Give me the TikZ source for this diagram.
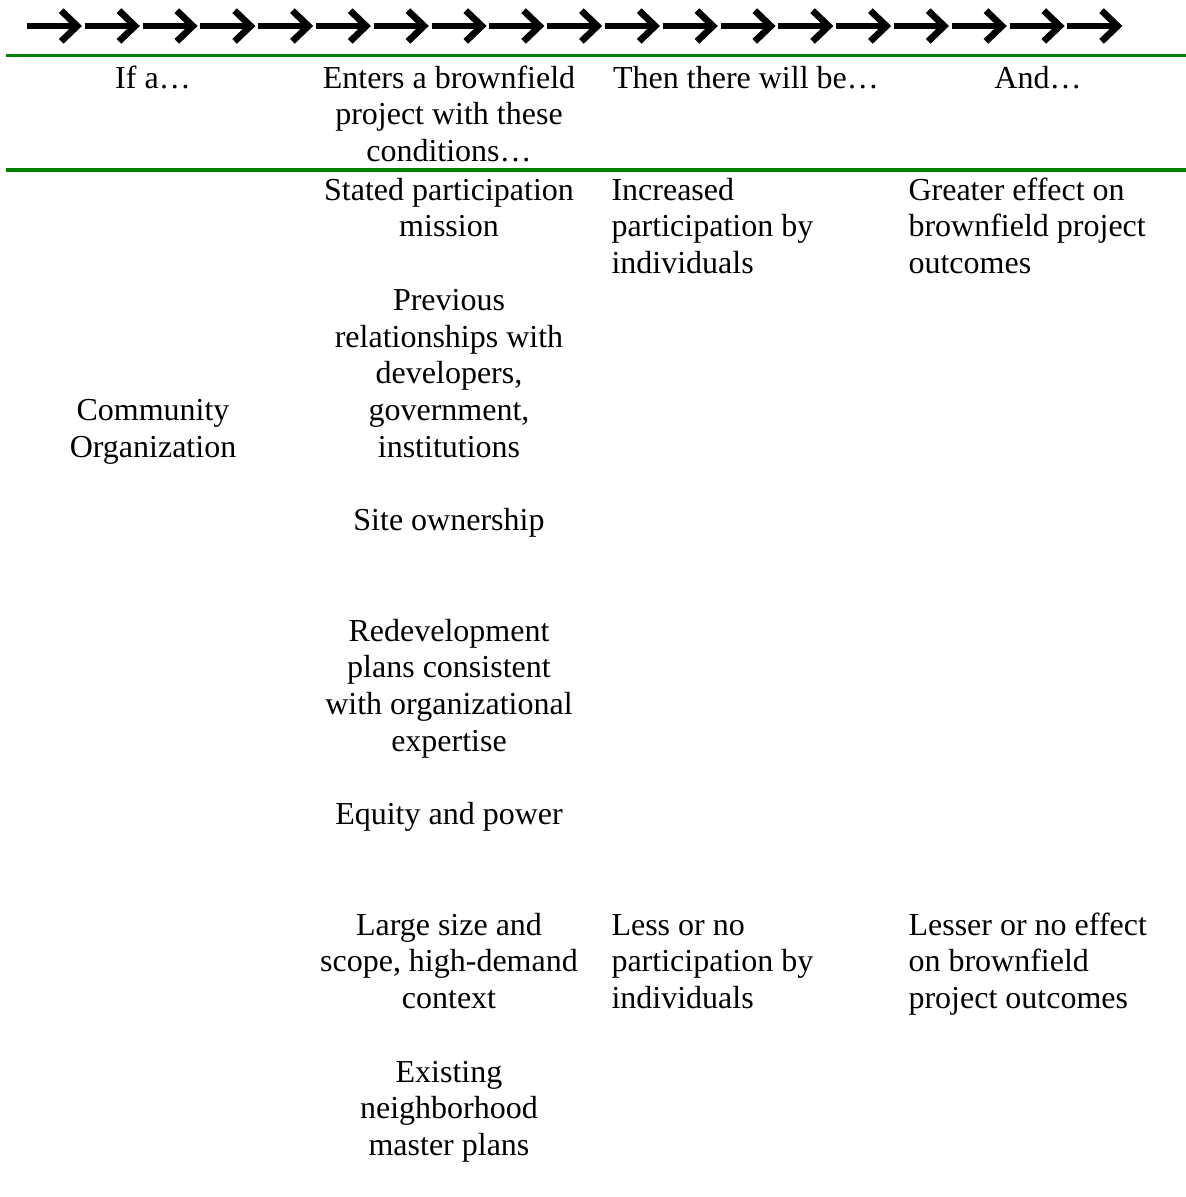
\documentclass[tikz,border=0pt]{standalone}
\usepackage{fontspec}
\setmainfont{Liberation Serif}
\usepackage{xcolor}
\usepackage{tikz}
\usetikzlibrary{arrows.meta, positioning}

\definecolor{rulegreen}{RGB}{0,128,0}

\begin{document}
\begin{tikzpicture}[
  x=0.375pt, y=-0.375pt,
  % Arrow row above the table
  flow_arr/.style={-{Straight Barb[length=6pt, width=11.5pt, line width=2.5pt]}, line width=2pt, draw=black},
  % Green table rules
  grule/.style={draw=rulegreen, line width=1.25pt},
  % Centred cell text (placed at the baseline of its last line)
  cell/.style={anchor=base, align=center, inner sep=0pt, font=\fontsize{12}{13.78}\selectfont},
  % Left-aligned cell text
  lcell/.style={cell, anchor=base west, align=left}
]
\useasboundingbox (0,0) rectangle (1186,1197);

%% Row of arrows
\foreach \i in {0,...,18} {
  \coordinate (a\i) at ({27+57.8*\i}, 26);
  \coordinate (b\i) at ({82+57.8*\i}, 26);
  \draw[flow_arr] (a\i) -- (b\i);
}

%% Rules
\coordinate (top_l) at (6, 55.7);
\coordinate (top_r) at (1186, 55.7);
\coordinate (mid_l) at (6, 170);
\coordinate (mid_r) at (1186, 170);
\draw[grule] (top_l) -- (top_r);
\draw[grule] (mid_l) -- (mid_r);

%% Header row
\node[cell] (hdr_if)     at (153, 88)    {If a…};
\node[cell] (hdr_enters) at (449, 161.5) {Enters a brownfield\\project with these\\conditions…};
\node[cell] (hdr_then)   at (746, 88)    {Then there will be…};
\node[cell] (hdr_and)    at (1038, 88)   {And…};

%% Actor
\node[cell] (org) at (153, 457.25) {Community\\Organization};

%% Conditions
\node[cell] (c_mission) at (449, 236.75)  {Stated participation\\mission};
\node[cell] (c_prev)    at (449, 457.25)  {Previous\\relationships with\\developers,\\government,\\institutions};
\node[cell] (c_site)    at (449, 530.75)  {Site ownership};
\node[cell] (c_plans)   at (449, 751.25)  {Redevelopment\\plans consistent\\with organizational\\expertise};
\node[cell] (c_equity)  at (449, 824.75)  {Equity and power};
\node[cell] (c_size)    at (449, 1008.5)  {Large size and\\scope, high-demand\\context};
\node[cell] (c_master)  at (449, 1155.5)  {Existing\\neighborhood\\master plans};

%% Participation
\node[lcell] (p_more) at (611, 273.5)  {Increased\\participation by\\individuals};
\node[lcell] (p_less) at (611, 1008.5) {Less or no\\participation by\\individuals};

%% Effect on outcomes
\node[lcell] (e_more) at (908, 273.5)  {Greater effect on\\brownfield project\\outcomes};
\node[lcell] (e_less) at (908, 1008.5) {Lesser or no effect\\on brownfield\\project outcomes};

\end{tikzpicture}
\end{document}
